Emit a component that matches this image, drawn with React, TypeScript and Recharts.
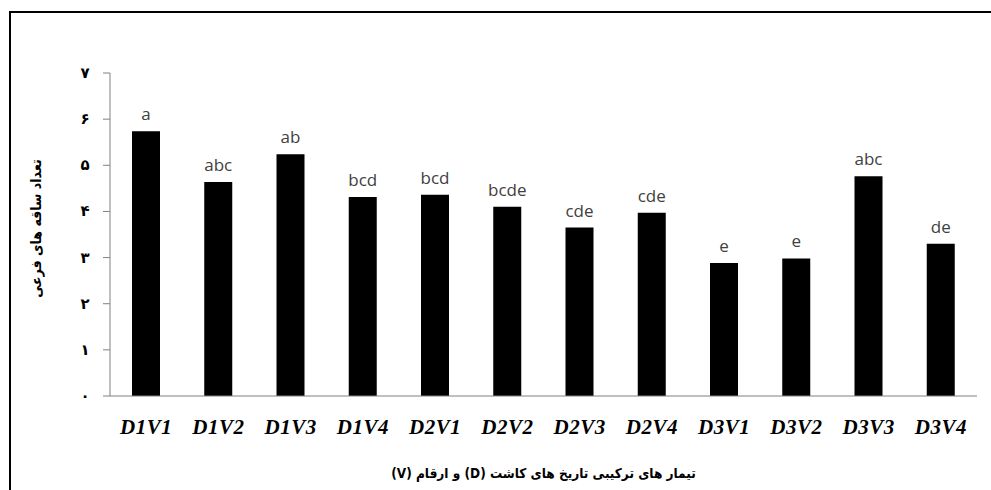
import { BarChart, Bar, XAxis, YAxis, LabelList, Label } from "recharts"

const categories = ["D1V1", "D1V2", "D1V3", "D1V4", "D2V1", "D2V2", "D2V3", "D2V4", "D3V1", "D3V2", "D3V3", "D3V4"]
const branchCounts = [5.74, 4.64, 5.24, 4.31, 4.36, 4.1, 3.65, 3.97, 2.88, 2.98, 4.76, 3.3]
const groupLetters = ["a", "abc", "ab", "bcd", "bcd", "bcde", "cde", "cde", "e", "e", "abc", "de"]
const yTicks = [0, 1, 2, 3, 4, 5, 6, 7]
const yTickLabels = ["۰", "۱", "۲", "۳", "۴", "۵", "۶", "۷"]

const xTitle = "تیمار های ترکیبی تاریخ های کاشت (D) و ارقام (V)"
const yTitle = "تعداد ساقه های فرعی"

const data = categories.map((name, i) => ({
  name,
  value: branchCounts[i],
  letter: groupLetters[i],
}))

const persianFont = "'DejaVu Sans Condensed', 'DejaVu Sans', sans-serif"

function XTick({ x, y, payload }: any) {
  return (
    <text
      x={x}
      y={y + 30}
      textAnchor="middle"
      fontFamily="'Liberation Serif', serif"
      fontWeight="bold"
      fontStyle="italic"
      fontSize={21}
      letterSpacing={0.5}
      fill="#000"
    >
      {payload.value}
    </text>
  )
}

function YTick({ y, payload }: any) {
  return (
    <text
      x={85}
      y={y + 5}
      textAnchor="middle"
      fontFamily="'DejaVu Sans', sans-serif"
      fontWeight="bold"
      fontSize={15}
      fill="#000"
    >
      {yTickLabels[yTicks.indexOf(payload.value)]}
    </text>
  )
}

function YTitle({ viewBox }: any) {
  const cy = viewBox.y + viewBox.height / 2 - 6
  return (
    <text
      x={36}
      y={cy}
      transform={`rotate(-90, 36, ${cy})`}
      textAnchor="middle"
      dominantBaseline="central"
      direction="rtl"
      fontFamily={persianFont}
      fontWeight="bold"
      fontSize={14}
      fill="#000"
    >
      {yTitle}
    </text>
  )
}

function XTitle({ viewBox }: any) {
  const cx = viewBox.x + viewBox.width / 2
  return (
    <text
      x={cx}
      y={478}
      textAnchor="middle"
      direction="rtl"
      fontFamily={persianFont}
      fontWeight="bold"
      fontSize={13.5}
      fill="#000"
    >
      {xTitle}
    </text>
  )
}

export default function App() {
  return (
    <div
      style={{
        position: "absolute",
        left: 0,
        top: 0,
        width: 991,
        height: 490,
        overflow: "hidden",
        background: "#fff",
      }}
    >
      <div
        style={{
          position: "absolute",
          left: 9,
          top: 11,
          width: 1010,
          height: 510,
          border: "2px solid #000",
        }}
      />
      <div style={{ position: "absolute", left: 0, top: 0 }}>
        <BarChart
          width={991}
          height={490}
          data={data}
          margin={{ top: 73, right: 14, bottom: 0, left: 0 }}
        >
          <XAxis
            dataKey="name"
            height={94}
            tick={<XTick />}
            tickLine={false}
            axisLine={{ stroke: "#808080", strokeWidth: 1 }}
            interval={0}
          >
            <Label content={<XTitle />} />
          </XAxis>
          <YAxis
            width={110}
            domain={[0, 7]}
            ticks={yTicks}
            tick={<YTick />}
            tickSize={7}
            tickLine={{ stroke: "#808080" }}
            axisLine={{ stroke: "#808080", strokeWidth: 1 }}
          >
            <Label content={<YTitle />} />
          </YAxis>
          <Bar dataKey="value" fill="#000" barSize={28} isAnimationActive={false}>
            <LabelList
              dataKey="letter"
              position="top"
              offset={11}
              fontFamily="'Open Sans', sans-serif"
              fontSize={17}
              fill="#404040"
            />
          </Bar>
        </BarChart>
      </div>
    </div>
  )
}
